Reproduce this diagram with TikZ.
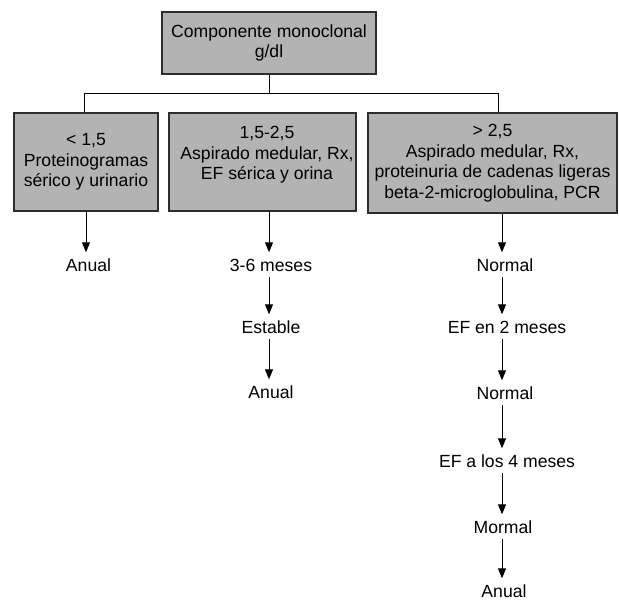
\documentclass[tikz,border=0pt]{standalone}
\usepackage{fontspec}
\setmainfont{Liberation Sans}
\usetikzlibrary{arrows.meta}
\definecolor{boxfill}{RGB}{179,179,179}
\definecolor{boxline}{RGB}{45,45,45}
\begin{document}
\begin{tikzpicture}[x=1pt,y=-1pt,
  every node/.style={font=\fontsize{17.6}{20.5}\selectfont},
  greybox/.style={draw=boxline,fill=boxfill,line width=1.2pt,align=center,inner sep=0pt},
  lbl/.style={anchor=base,inner xsep=2pt,inner ysep=6pt,text height=12.5pt,text depth=0pt},
  lastlbl/.style={anchor=base,inner xsep=2pt,inner ysep=1pt,text height=17.5pt,text depth=0pt},
  arr/.style={line width=1pt,-{Triangle[length=10pt,width=8pt]}},
  ln/.style={line width=1pt}]
\useasboundingbox (0,0) rectangle (619,600);
% boxes
\node[greybox,minimum width=214pt,minimum height=62pt] (top) at (269,43) {Componente monoclonal\\g/dl};
\node[greybox,minimum width=144pt,minimum height=98pt] (b1) at (86,162) {< 1,5\\Proteinogramas\\sérico y urinario};
\node[greybox,minimum width=187pt,minimum height=98pt] (b2) at (262.5,162) {};
\node[align=center,inner sep=0pt] (t2) at (267,163.5) {1,5-2,5\\Aspirado medular, Rx,\\EF sérica y orina\\\mbox{}};
\node[greybox,minimum width=249pt,minimum height=100pt] (b3) at (492.5,163) {> 2,5\\Aspirado medular, Rx,\\proteinuria de cadenas ligeras\\beta-2-microglobulina, PCR};
% columns
\coordinate (c1) at (86,0);
\coordinate (c2) at (269,0);
\coordinate (c3) at (502,0);
\coordinate (d1) at (84,0);
\coordinate (d3) at (498,0);
\coordinate (bus) at (0,93);
% tree lines
\draw[ln] (top.south) -- (top.south |- bus);
\draw[ln] (b1.north -| d1) -- (d1 |- bus) -- (d3 |- bus) -- (b3.north -| d3);
% column 1
\node[lbl] (a1) at (88.5,271) {Anual};
\draw[arr] (b1.south -| c1) -- (a1.north -| c1);
% column 2
\node[lbl] (m2) at (271,271) {3-6 meses};
\node[lbl] (e2) at (271,333) {Estable};
\node[lbl] (a2) at (271,398) {Anual};
\draw[arr] (b2.south -| c2) -- (m2.north -| c2);
\draw[arr] (m2.south -| c2) -- (e2.north -| c2);
\draw[arr] (e2.south -| c2) -- (a2.north -| c2);
% column 3
\node[lbl] (n1) at (505,271) {Normal};
\node[lbl] (f1) at (507,333) {EF en 2 meses};
\node[lbl] (n2) at (505,399) {Normal};
\node[lbl] (f2) at (507,467) {EF a los 4 meses};
\node[lbl] (n3) at (503,533) {Mormal};
\node[lastlbl] (a3) at (504,597) {Anual};
\draw[arr] (b3.south -| c3) -- (n1.north -| c3);
\draw[arr] (n1.south -| c3) -- (f1.north -| c3);
\draw[arr] (f1.south -| c3) -- (n2.north -| c3);
\draw[arr] (n2.south -| c3) -- (f2.north -| c3);
\draw[arr] (f2.south -| c3) -- (n3.north -| c3);
\draw[arr] (n3.south -| c3) -- (a3.north -| c3);
\end{tikzpicture}
\end{document}
